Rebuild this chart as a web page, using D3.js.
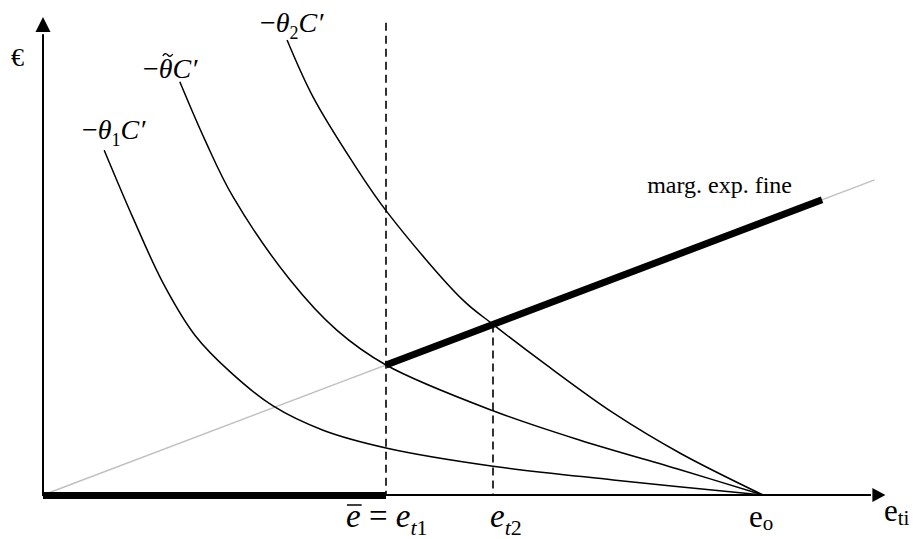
<!DOCTYPE html>
<html>
<head>
<meta charset="utf-8">
<script src="https://cdn.jsdelivr.net/npm/d3@7"></script>
<style>
  body { margin: 0; background: #fff; }
  svg text { font-family: "Liberation Serif", "Times New Roman", serif; fill: #000; }
</style>
</head>
<body>
<div id="chart"></div>
<script>
// key points on the effort axis
const eBar = 4.764, eT2 = 6.25, eO = 10;
// marginal expected fine: slope of the line through the origin
const fineSlope = 0.379;
const fineEnd = 11.55;      // grey line end
const fineThickEnd = 10.82; // bold part end

// the three -theta C' curves, [effort, euro]
const theta1Curve = [[0.85, 4.79], [1.25, 3.85], [1.67, 2.94], [2.11, 2.22], [2.6, 1.71], [3.19, 1.24],
  [3.89, 0.90], [4.78, 0.65], [6.25, 0.40], [7.92, 0.21], [10, 0]];
const thetaTildeCurve = [[1.9, 5.74], [2.25, 4.93], [2.64, 4.14], [3.43, 2.99], [4.08, 2.29], [4.764, 1.806],
  [6.25, 1.17], [7.46, 0.76], [8.85, 0.35], [10, 0]];
const theta2Curve = [[3.39, 6.32], [3.75, 5.53], [4.31, 4.61], [4.78, 3.93], [5.83, 2.71], [6.25, 2.37],
  [7.0, 1.8], [7.92, 1.14], [8.85, 0.58], [10, 0]];

const width = 917, height = 539;

const x = d3.scaleLinear().domain([0, 11.7]).range([43, 885.4]);
const y = d3.scaleLinear().domain([0, 6.64]).range([495, 17]);

const svg = d3.select("#chart").append("svg")
    .attr("width", width)
    .attr("height", height);

// grey marginal expected fine line
svg.append("line")
    .attr("x1", x(0)).attr("y1", y(0))
    .attr("x2", x(fineEnd)).attr("y2", y(fineSlope * fineEnd))
    .attr("stroke", "#c0c0c0")
    .attr("stroke-width", 1.5);

// dashed verticals
svg.append("line")
    .attr("x1", x(eBar)).attr("x2", x(eBar))
    .attr("y1", y(6.56)).attr("y2", y(0))
    .attr("stroke", "#000").attr("stroke-width", 1.6)
    .attr("stroke-dasharray", "8,5");
svg.append("line")
    .attr("x1", x(eT2)).attr("x2", x(eT2))
    .attr("y1", y(fineSlope * eT2)).attr("y2", y(0))
    .attr("stroke", "#000").attr("stroke-width", 1.6)
    .attr("stroke-dasharray", "8,5");

// curves
const line = d3.line()
    .x(d => x(d[0]))
    .y(d => y(d[1]))
    .curve(d3.curveCatmullRom.alpha(0.5));

[theta1Curve, thetaTildeCurve, theta2Curve].forEach(function(c) {
    svg.append("path")
        .attr("d", line(c))
        .attr("fill", "none")
        .attr("stroke", "#000")
        .attr("stroke-width", 1.5);
});

// axes
svg.append("line")
    .attr("x1", x(0)).attr("y1", y(0))
    .attr("x2", x(0)).attr("y2", y(6.4))
    .attr("stroke", "#000").attr("stroke-width", 2);
svg.append("path")
    .attr("d", "M" + x(0) + "," + y(6.64) + "l-7.5,15h15z")
    .attr("fill", "#000");
svg.append("line")
    .attr("x1", x(0) - 1).attr("y1", y(0))
    .attr("x2", x(11.5)).attr("y2", y(0))
    .attr("stroke", "#000").attr("stroke-width", 2);
svg.append("path")
    .attr("d", "M" + x(11.7) + "," + y(0) + "l-13,-7v14z")
    .attr("fill", "#000");

// bold parts
svg.append("line")
    .attr("x1", x(0)).attr("y1", y(0) + 0.5)
    .attr("x2", x(eBar)).attr("y2", y(0) + 0.5)
    .attr("stroke", "#000").attr("stroke-width", 7);
svg.append("line")
    .attr("x1", x(eBar)).attr("y1", y(fineSlope * eBar))
    .attr("x2", x(fineThickEnd)).attr("y2", y(fineSlope * fineThickEnd))
    .attr("stroke", "#000").attr("stroke-width", 7);

// labels
svg.append("text").attr("x", 11).attr("y", 66)
    .style("font-size", "26px").text("€");

function curveLabel(lx, ly, sub, tilde) {
    const t = svg.append("text").attr("x", lx).attr("y", ly).style("font-size", "28px");
    t.append("tspan").text("\u2212");
    const th = t.append("tspan").style("font-style", "italic").text("\u03b8");
    if (sub) t.append("tspan").attr("dy", 7).style("font-size", "18px").text(sub);
    t.append("tspan").attr("dy", sub ? -7 : 0).style("font-style", "italic").text("C\u2032");
    if (tilde) {
        // tilde over theta, drawn as a small wave
        const b = th.node().getBBox();
        const cx = b.x + b.width / 2 + 2, cy = b.y + 2;
        svg.append("path")
            .attr("d", "M" + (cx - 5) + "," + (cy + 1) + "q2.5,-4 5,-1t5,-1")
            .attr("fill", "none").attr("stroke", "#000").attr("stroke-width", 1.3);
    }
}
curveLabel(82, 139, "1", false);
curveLabel(143, 78, null, true);
curveLabel(260, 32, "2", false);

svg.append("text").attr("x", 792).attr("y", 193)
    .attr("text-anchor", "end")
    .style("font-size", "24px").text("marg. exp. fine");

// x axis labels
const eb = svg.append("text").attr("x", 346).attr("y", 527).style("font-size", "33px");
const ebE = eb.append("tspan").style("font-style", "italic").text("e");
eb.append("tspan").text(" = ");
eb.append("tspan").style("font-style", "italic").text("e");
eb.append("tspan").attr("dy", 8).style("font-size", "22px").style("font-style", "italic").text("t");
eb.append("tspan").style("font-size", "22px").text("1");
const bb = ebE.node().getBBox();
svg.append("line")
    .attr("x1", bb.x + 1).attr("x2", bb.x + bb.width + 1)
    .attr("y1", 505).attr("y2", 505)
    .attr("stroke", "#000").attr("stroke-width", 1.5);

const e2 = svg.append("text").attr("x", 490).attr("y", 527).style("font-size", "33px");
e2.append("tspan").style("font-style", "italic").text("e");
e2.append("tspan").attr("dy", 8).style("font-size", "22px").style("font-style", "italic").text("t");
e2.append("tspan").style("font-size", "22px").text("2");

const eo = svg.append("text").attr("x", 749).attr("y", 527).style("font-size", "31px");
eo.append("tspan").text("e");
eo.append("tspan").attr("dy", 3).style("font-size", "21px").text("o");

const eti = svg.append("text").attr("x", 884).attr("y", 521).style("font-size", "31px");
eti.append("tspan").text("e");
eti.append("tspan").attr("dy", 4).style("font-size", "21px").text("ti");
</script>
</body>
</html>
